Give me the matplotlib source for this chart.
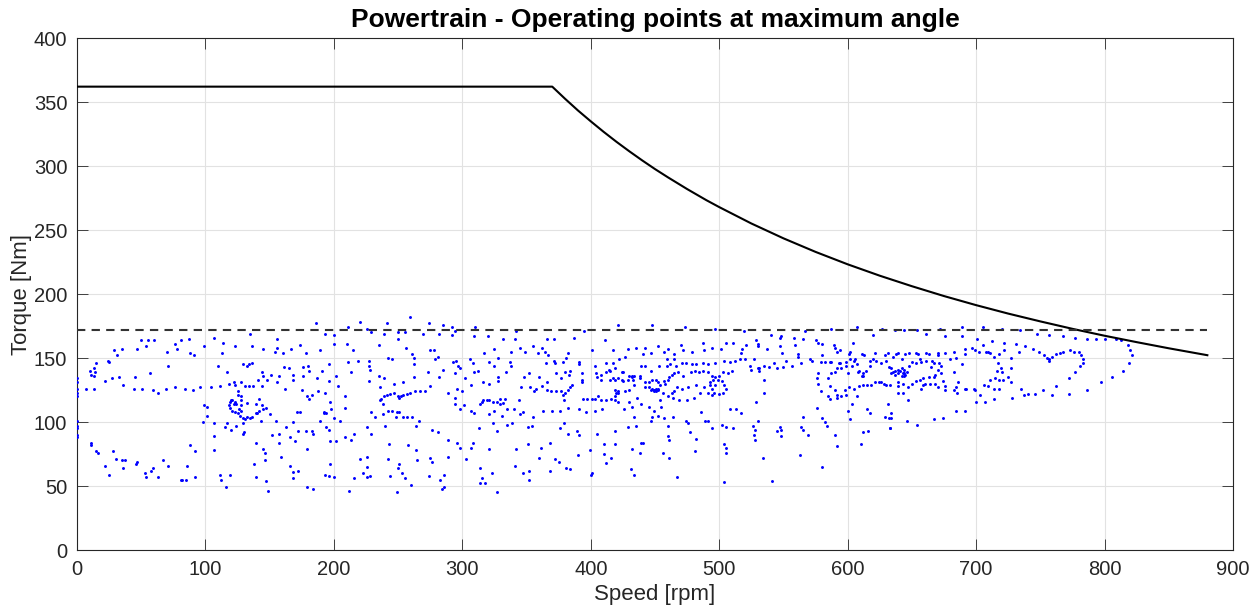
import matplotlib
matplotlib.use("Agg")
import matplotlib.pyplot as plt
import numpy as np

plt.rcParams["font.family"] = ["Liberation Sans", "DejaVu Sans"]

# torque envelope (speed rpm, torque Nm)
env_speed = [0, 370, 380, 390, 400, 410, 420, 430, 440, 450, 460, 475, 490, 500,
             525, 550, 575, 600, 625, 650, 675, 700, 725, 750, 775, 800, 825, 850,
             875, 880]
env_torque = [362, 362, 352.5, 343.4, 334.9, 326.7, 318.9, 311.5, 304.4, 297.6, 291.2,
              282.0, 273.3, 267.9, 255.1, 243.5, 232.9, 223.2, 214.3, 206.1, 198.4,
              191.3, 184.7, 178.6, 172.8, 167.4, 162.4, 157.6, 153.1, 152.2]

limit_torque = 172
limit_span = [0, 880]

# operating points, grouped by speed band
pts_0_105 = [
    (50, 164), (55, 164), (60, 164), (47, 157), (54, 159), (29, 156), (35, 157), (31, 152),
    (24, 148), (25, 147), (70, 155), (76, 161), (78, 157), (81, 164), (87, 165), (88, 154),
    (91, 152), (99, 159), (15, 146), (10, 140), (13, 142), (14, 139), (11, 137), (13, 136),
    (7, 126), (13, 126), (22, 132), (27, 134), (33, 135), (36, 129), (45, 135), (44, 126),
    (51, 126), (57, 138), (59, 125), (63, 123), (69, 126), (71, 144), (76, 127), (84, 126),
    (90, 125), (96, 127), (0, 134), (0, 131), (0, 126), (0, 123), (0, 120), (99, 113),
    (101, 112), (101, 105), (98, 100), (88, 82), (92, 77), (0, 101), (0, 97), (0, 95),
    (0, 90), (0, 88), (11, 84), (11, 82), (15, 77), (16, 76), (28, 77), (30, 71), (35, 70),
    (37, 70), (36, 64), (22, 66), (25, 59), (46, 67), (47, 69), (53, 60), (54, 57), (58, 62),
    (59, 64), (63, 57), (67, 70), (71, 66), (86, 66), (92, 57), (81, 55), (82, 55), (85, 55),
]
pts_105_210 = [
    (186, 177), (107, 166), (114, 162), (123, 159), (135, 169), (136, 159), (145, 157),
    (154, 155), (156, 165), (156, 158), (160, 154), (167, 157), (174, 160), (178, 154),
    (189, 156), (193, 169), (200, 168), (200, 161), (210, 161), (113, 154),
    (110, 144), (117, 139), (129, 145), (132, 144), (134, 145), (136, 146), (144, 139),
    (145, 136), (151, 137), (157, 136), (161, 143), (165, 142), (168, 137), (176, 143),
    (180, 144), (181, 140), (176, 136), (187, 134), (191, 140), (196, 145), (202, 136),
    (211, 147), (104, 127), (111, 128), (118, 130), (122, 131), (123, 129), (128, 131),
    (131, 128), (134, 128), (137, 128), (141, 133), (144, 128), (148, 133), (156, 131),
    (162, 126), (168, 133), (175, 125), (179, 120), (181, 118), (183, 121), (188, 124),
    (193, 123), (196, 132), (197, 116), (203, 128), (209, 120), (209, 111),
    (125, 124), (125, 121), (128, 120), (128, 117), (128, 113), (132, 115), (139, 114),
    (142, 118), (144, 113), (145, 110), (147, 111), (142, 109), (140, 107), (150, 106),
    (171, 108), (174, 108), (192, 107), (194, 107), (198, 110),
    (118, 113), (119, 116), (120, 117), (121, 117), (123, 116), (124, 114), (122, 114),
    (119, 111), (121, 109), (123, 108), (125, 107), (127, 105), (128, 109), (126, 110),
    (129, 103), (131, 102), (132, 104), (136, 104), (135, 103), (139, 107), (143, 101),
    (107, 99), (115, 96), (117, 99), (120, 94), (124, 97), (129, 99), (129, 91), (130, 92),
    (107, 89), (107, 78), (139, 84), (145, 79), (146, 76), (146, 70), (138, 67), (139, 57),
    (155, 101), (163, 96), (168, 100), (172, 93), (152, 90), (157, 91), (157, 84), (166, 88),
    (170, 85), (159, 73), (166, 66), (168, 61), (168, 56), (172, 62), (179, 79), (179, 49),
    (184, 48), (178, 93), (183, 93), (184, 91), (189, 101), (192, 108), (194, 96), (196, 94),
    (200, 103), (197, 85), (202, 85), (205, 101), (209, 88), (197, 67), (193, 59), (196, 58),
    (200, 57), (111, 59), (112, 55), (119, 59), (116, 49), (149, 46), (147, 54), (212, 46),
]
pts_210_315 = [
    (259, 182), (220, 178), (241, 177), (211, 174), (226, 173), (229, 170), (239, 169),
    (250, 170), (255, 170), (250, 165), (274, 177), (285, 176), (269, 169), (282, 169),
    (292, 174), (294, 171), (292, 168), (309, 167), (310, 174), (235, 160), (215, 156),
    (256, 158), (261, 153), (275, 156), (278, 156), (281, 151), (279, 149), (317, 154),
    (219, 148), (227, 148), (227, 144), (228, 141), (213, 139), (242, 150), (245, 149),
    (262, 150), (262, 145), (235, 136), (239, 134), (227, 132), (247, 130), (254, 131),
    (262, 135), (273, 139), (282, 135), (285, 141), (275, 128), (236, 127), (293, 147),
    (295, 148), (297, 144), (298, 142), (294, 138), (306, 149), (308, 146), (309, 139),
    (312, 140), (302, 134), (307, 129), (316, 131), (289, 123), (296, 126), (300, 124),
    (294, 119), (294, 114), (298, 110), (301, 113), (307, 109), (309, 107), (315, 116),
    (316, 117), (236, 117), (237, 118), (239, 120), (241, 121), (244, 122), (247, 123),
    (250, 120), (251, 119), (252, 120), (254, 121), (257, 122), (259, 123), (263, 124),
    (267, 124), (271, 124), (238, 114), (242, 109), (245, 109), (249, 108), (251, 108),
    (248, 104), (254, 104), (257, 104), (261, 104), (266, 101), (229, 108), (232, 104),
    (238, 106), (226, 96), (229, 91), (240, 97), (264, 97), (276, 94), (281, 92), (289, 86),
    (216, 91), (213, 86), (243, 83), (258, 82), (264, 78), (275, 72), (276, 69), (296, 84),
    (298, 80), (307, 80), (308, 84), (313, 95), (289, 73), (303, 71), (220, 71), (226, 73),
    (242, 71), (250, 64), (251, 67), (265, 70), (226, 65), (223, 60), (226, 57), (228, 58),
    (216, 56), (244, 58), (253, 60), (255, 56), (260, 51), (274, 58), (283, 55), (286, 59),
    (284, 48), (286, 49), (315, 56), (314, 64), (249, 45),
]
pts_315_420 = [
    (421, 176), (342, 171), (320, 167), (332, 165), (341, 165), (325, 157), (338, 155),
    (345, 158), (349, 155), (355, 159), (359, 154), (362, 158), (364, 155), (367, 152),
    (366, 165), (371, 165), (387, 166), (382, 154), (401, 156), (411, 164), (417, 156),
    (395, 171), (321, 147), (325, 144), (328, 150), (337, 147), (338, 144), (334, 139),
    (328, 135), (328, 132), (321, 130), (346, 127), (348, 135), (352, 138), (353, 127),
    (356, 124), (357, 126), (360, 135), (362, 128), (366, 131), (372, 146), (371, 148),
    (365, 146), (373, 138), (377, 134), (380, 139), (378, 147), (381, 150), (384, 140),
    (383, 137), (391, 147), (391, 145), (393, 138), (393, 133), (393, 131), (403, 144),
    (404, 138), (405, 135), (408, 137), (412, 139), (414, 141), (415, 140), (412, 146),
    (417, 146), (422, 149), (408, 133), (415, 133), (417, 134), (419, 133), (421, 134),
    (366, 125), (369, 124), (373, 124), (377, 124), (380, 123), (382, 125), (384, 127),
    (385, 129), (378, 121), (379, 117), (394, 118), (397, 118), (401, 118), (403, 118),
    (406, 120), (408, 117), (412, 117), (416, 118), (419, 120), (420, 123), (421, 124),
    (314, 114), (319, 117), (321, 117), (324, 116), (327, 116), (329, 114), (332, 115),
    (329, 118), (333, 118), (344, 117), (335, 110), (340, 110), (347, 108), (345, 106),
    (355, 104), (363, 109), (370, 109), (376, 109), (382, 111), (391, 110), (396, 108),
    (403, 109), (409, 110), (321, 106), (325, 109), (331, 105), (324, 99), (327, 93),
    (335, 98), (339, 99), (351, 96), (354, 97), (376, 95), (379, 99), (382, 91), (389, 93),
    (391, 90), (405, 91), (419, 93), (321, 79), (342, 79), (351, 83), (361, 80), (368, 84),
    (360, 72), (372, 71), (375, 69), (390, 74), (399, 78), (410, 83), (410, 75), (412, 68),
    (416, 72), (419, 83), (341, 66), (347, 60), (352, 62), (352, 55), (368, 62), (381, 64),
    (384, 63), (401, 60), (400, 59), (318, 52), (323, 60), (327, 45), (314, 52),
]
pts_420_525 = [
    (448, 176), (473, 174), (497, 173), (519, 171), (429, 157), (435, 158), (442, 158),
    (441, 153), (447, 154), (452, 159), (457, 155), (460, 157), (465, 153), (470, 160),
    (472, 156), (479, 155), (487, 162), (488, 156), (494, 158), (501, 157), (505, 162),
    (511, 162), (518, 157), (521, 160), (517, 154), (427, 151), (459, 149), (465, 149),
    (419, 142), (425, 139), (432, 136), (432, 135), (434, 136), (438, 136), (439, 144),
    (442, 144), (447, 140), (453, 144), (459, 144), (462, 145), (466, 144), (471, 146),
    (474, 146), (479, 145), (482, 145), (487, 146), (491, 145), (497, 146), (504, 148),
    (508, 147), (512, 148), (516, 149), (520, 149), (527, 149), (424, 133), (425, 132),
    (430, 136), (424, 139), (429, 133), (433, 133), (438, 134), (442, 131), (445, 131),
    (448, 133), (451, 133), (452, 131), (457, 132), (460, 133), (461, 135), (463, 137),
    (465, 138), (468, 139), (472, 136), (478, 139), (481, 140), (484, 139), (487, 140),
    (491, 139), (494, 136), (497, 135), (500, 136), (503, 139), (507, 138), (510, 140),
    (493, 131), (495, 133), (499, 133), (502, 132), (504, 129), (505, 126), (503, 123),
    (500, 122), (496, 123), (494, 126), (493, 129), (497, 129), (494, 121), (491, 123),
    (488, 127), (447, 125), (448, 126), (449, 125), (450, 125), (451, 126), (452, 125),
    (449, 124), (451, 124), (452, 126), (419, 125), (421, 123), (427, 124), (430, 125),
    (434, 129), (442, 127), (445, 127), (454, 129), (458, 130), (467, 127), (465, 124),
    (456, 123), (463, 123), (471, 126), (476, 127), (482, 129), (485, 123), (480, 119),
    (475, 117), (469, 117), (464, 119), (460, 120), (419, 117), (421, 116), (426, 110),
    (430, 116), (432, 112), (439, 114), (436, 119), (445, 112), (454, 117), (455, 112),
    (449, 109), (452, 105), (448, 104), (434, 104), (435, 97), (429, 96), (447, 101),
    (457, 103), (460, 97), (464, 104), (474, 101), (476, 99), (486, 108), (489, 101),
    (494, 95), (491, 101), (502, 98), (508, 110), (513, 110), (517, 107), (526, 97),
    (527, 90), (460, 89), (461, 86), (477, 92), (482, 87), (505, 96), (511, 95), (504, 83),
    (505, 80), (505, 76), (439, 84), (441, 84), (438, 76), (432, 79), (456, 76), (461, 72),
    (481, 77), (431, 63), (434, 59), (467, 57), (504, 53),
]
pts_525_630 = [
    (529, 164), (530, 161), (530, 159), (540, 168), (547, 166), (548, 167), (547, 159),
    (558, 166), (559, 160), (565, 165), (567, 171), (575, 164), (577, 162), (580, 161),
    (587, 173), (589, 160), (590, 158), (592, 155), (594, 156), (604, 162), (607, 174),
    (602, 155), (601, 153), (611, 153), (613, 152), (621, 154), (627, 173), (620, 168),
    (629, 152), (631, 154), (537, 157), (549, 154), (561, 153), (561, 151), (571, 149),
    (572, 148), (580, 152), (579, 147), (582, 147), (586, 147), (587, 147), (524, 144),
    (525, 141), (530, 142), (531, 142), (531, 140), (535, 144), (539, 143), (543, 146),
    (545, 142), (550, 143), (552, 148), (557, 144), (564, 146), (577, 138), (587, 138),
    (590, 139), (593, 146), (594, 146), (592, 142), (595, 142), (599, 147), (599, 144),
    (600, 138), (602, 149), (603, 144), (605, 148), (606, 149), (607, 145), (608, 139),
    (609, 140), (611, 136), (612, 138), (614, 140), (617, 144), (617, 148), (620, 149),
    (622, 148), (626, 146), (630, 148), (632, 143), (630, 129), (612, 136), (605, 126),
    (609, 128), (612, 129), (615, 129), (618, 129), (621, 131), (624, 131), (626, 131),
    (628, 130), (577, 130), (576, 134), (579, 124), (585, 134), (586, 128), (585, 120),
    (586, 118), (590, 125), (592, 121), (592, 119), (595, 120), (599, 121), (598, 125),
    (601, 127), (607, 120), (600, 109), (603, 114), (602, 102), (576, 111), (535, 133),
    (535, 123), (529, 116), (580, 103), (582, 100), (584, 97), (590, 90), (592, 81),
    (565, 104), (564, 96), (565, 94), (569, 90), (563, 74), (545, 93), (547, 96), (548, 94),
    (548, 89), (528, 94), (528, 86), (530, 101), (580, 65), (541, 54), (534, 72), (610, 83),
    (612, 92), (616, 93), (615, 110), (617, 107), (629, 104), (632, 103), (633, 95),
]
pts_630_735 = [
    (637, 172), (644, 172), (654, 172), (661, 169), (672, 173), (676, 167), (689, 174),
    (689, 167), (705, 174), (701, 165), (720, 173), (722, 162), (712, 163), (705, 160),
    (708, 155), (699, 156), (697, 158), (691, 157), (683, 155), (635, 151), (638, 153),
    (639, 154), (645, 153), (648, 154), (653, 154), (655, 153), (661, 154), (663, 153),
    (670, 154), (670, 152), (676, 154), (680, 149), (684, 150), (691, 153), (689, 145),
    (702, 155), (709, 155), (711, 154), (714, 151), (718, 153), (722, 156), (727, 150),
    (731, 161), (733, 155), (642, 149), (650, 147), (653, 146), (648, 144), (656, 149),
    (657, 147), (661, 148), (666, 148), (667, 146), (665, 143), (671, 146), (673, 144),
    (670, 141), (673, 138), (668, 137), (663, 135), (659, 134), (656, 133), (653, 132),
    (650, 130), (660, 130), (664, 130), (668, 130), (667, 135), (670, 127), (674, 132),
    (683, 139), (686, 131), (676, 128), (676, 125), (684, 127), (691, 126), (692, 126),
    (698, 126), (699, 125), (706, 129), (709, 128), (711, 133), (715, 134), (718, 133),
    (716, 140), (719, 142), (717, 146), (720, 139), (721, 133), (725, 135), (727, 131),
    (727, 142), (714, 126), (718, 126), (735, 126), (703, 121), (707, 116), (700, 116),
    (714, 118), (728, 119), (737, 121), (685, 123), (683, 125), (634, 138), (635, 139),
    (637, 140), (639, 141), (642, 142), (644, 141), (646, 139), (645, 137), (644, 136),
    (642, 136), (643, 138), (644, 138), (641, 140), (639, 138), (637, 137), (634, 142),
    (633, 129), (639, 131), (639, 128), (643, 130), (643, 123), (639, 123), (647, 127),
    (657, 126), (659, 129), (631, 114), (634, 103), (634, 107), (633, 95), (646, 101),
    (654, 98), (647, 117), (667, 102), (674, 103), (684, 109), (691, 109),
]
pts_735_825 = [
    (734, 172), (747, 169), (757, 168), (768, 167), (777, 166), (786, 165), (793, 165),
    (800, 165), (809, 165), (813, 164), (818, 160), (820, 156), (821, 152), (819, 146),
    (814, 140), (806, 135), (797, 131), (786, 125), (772, 122), (759, 121), (752, 125),
    (746, 122), (740, 122), (762, 128), (772, 134), (777, 139), (781, 144), (783, 146),
    (783, 149), (782, 152), (780, 155), (776, 155), (773, 156), (768, 155), (765, 154),
    (762, 153), (759, 151), (757, 149), (757, 148), (755, 150), (753, 152), (749, 155),
    (744, 157), (738, 159),
]

bands = [pts_0_105, pts_105_210, pts_210_315, pts_315_420,
         pts_420_525, pts_525_630, pts_630_735, pts_735_825]
op = np.array([p for band in bands for p in band], dtype=float)
op_speed, op_torque = op[:, 0], op[:, 1]

ink = "#262626"
fig = plt.figure(figsize=(12.6, 6.16), dpi=100)
ax = fig.add_axes([0.0611, 0.1071, 0.9175, 0.8312])

ax.scatter(op_speed, op_torque, s=4.5, color="blue", linewidths=0, zorder=3)
ax.plot(env_speed, env_torque, color="black", linewidth=1.5, zorder=4)
ax.plot(limit_span, [limit_torque, limit_torque], color="#333333", linestyle="--",
        linewidth=1.5, dashes=(4, 3), zorder=4)

ax.set_xlim(0, 900)
ax.set_ylim(0, 400)
ax.set_xticks(np.arange(0, 901, 100))
ax.set_yticks(np.arange(0, 401, 50))
ax.grid(True, color="#e2e2e2", linewidth=0.8)
ax.set_axisbelow(True)
for s in ax.spines.values():
    s.set_color(ink)
    s.set_linewidth(0.8)
ax.tick_params(direction="in", length=8, width=0.6, colors=ink, labelsize=14.5,
               top=True, right=True, pad=7)

ax.set_xlabel("Speed [rpm]", fontsize=16, color=ink, labelpad=4)
ax.set_ylabel("Torque [Nm]", fontsize=16, color=ink, labelpad=1)
ax.set_title("Powertrain - Operating points at maximum angle", fontsize=19,
             fontweight="bold", pad=8)

fig.savefig("out.png", dpi=100)
